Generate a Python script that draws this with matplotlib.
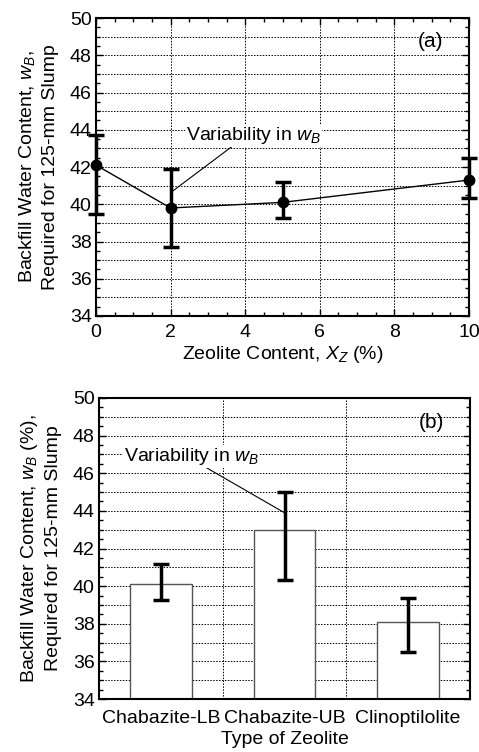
import numpy as np
import matplotlib.pyplot as plt
from matplotlib.ticker import MultipleLocator

plt.rcParams['font.family'] = ['Liberation Sans', 'DejaVu Sans']
plt.rcParams['mathtext.fontset'] = 'custom'
plt.rcParams['mathtext.it'] = 'Liberation Sans:italic'
plt.rcParams['mathtext.rm'] = 'Liberation Sans'

# panel (a)
zeolite_pct = [0, 2, 5, 10]
wb_mean = [42.1, 39.8, 40.1, 41.3]
wb_low = [39.5, 37.7, 39.25, 40.35]
wb_high = [43.7, 41.9, 41.2, 42.5]

# panel (b)
zeolite_type = ['Chabazite-LB', 'Chabazite-UB', 'Clinoptilolite']
wb_bar = [40.1, 43.0, 38.1]
bar_low = [39.25, 40.35, 36.5]
bar_high = [41.2, 45.0, 39.35]

fs = 14
fig = plt.figure(figsize=(4.79, 7.52), dpi=100)
ax1 = fig.add_axes([96/479, 1 - 316/752, 373/479, 298/752])
ax2 = fig.add_axes([99/479, 1 - 699/752, 371/479, 301/752])
dots = (0, (1.5, 1.5))


def style(ax):
    ax.set_ylim(34, 50)
    ax.yaxis.set_major_locator(MultipleLocator(2))
    ax.yaxis.set_minor_locator(MultipleLocator(0.5))
    ax.grid(True, which='major', color='black', linestyle=dots, linewidth=0.7)
    ax.set_axisbelow(True)
    for s in ax.spines.values():
        s.set_linewidth(1.5)
    ax.tick_params(which='both', direction='in', top=True, right=True, labelsize=fs, width=1.0)
    ax.tick_params(which='major', length=5)
    ax.tick_params(which='minor', length=3)
    ax.tick_params(axis='y', pad=3)
    for yv in np.arange(35, 50, 2):
        ax.axhline(yv, color='black', linestyle=dots, linewidth=0.7, zorder=0)


style(ax1)
ax1.set_xlim(0, 10)
ax1.xaxis.set_major_locator(MultipleLocator(2))
ax1.xaxis.set_minor_locator(MultipleLocator(0.5))
ax1.tick_params(axis='x', pad=6)
yerr = [np.array(wb_mean) - np.array(wb_low), np.array(wb_high) - np.array(wb_mean)]
ax1.errorbar(zeolite_pct, wb_mean, yerr=yerr, fmt='o-', color='black', ms=7.5,
             lw=1.0, elinewidth=2.5, capsize=6, capthick=2.5, clip_on=False, zorder=5)
ax1.set_xlabel('Zeolite Content, $X_Z$ (%)', fontsize=fs, labelpad=2)
ax1.set_ylabel('Backfill Water Content, $w_B$,\nRequired for 125-mm Slump', fontsize=fs,
               labelpad=8, linespacing=1.4)
ax1.text(0.93, 0.92, '(a)', transform=ax1.transAxes, fontsize=fs + 1, ha='right', va='center')
ax1.annotate('Variability in $w_B$', xy=(2.05, 40.7), xytext=(2.4, 43.7),
             fontsize=fs, va='center', ha='left',
             arrowprops=dict(arrowstyle='-', color='black', lw=0.8, shrinkA=0, shrinkB=0,
                             relpos=(0.35, 0)),
             bbox=dict(facecolor='white', edgecolor='none', pad=0.5))

style(ax2)
xpos = np.arange(len(zeolite_type))
ax2.set_xlim(-0.5, 2.5)
ax2.bar(xpos, np.array(wb_bar) - 34, bottom=34, width=0.5, color='white',
        edgecolor='#555555', linewidth=1.0, zorder=2)
yerr2 = [np.array(wb_bar) - np.array(bar_low), np.array(bar_high) - np.array(wb_bar)]
ax2.errorbar(xpos, wb_bar, yerr=yerr2, fmt='none', ecolor='black', elinewidth=2.5,
             capsize=6, capthick=2.5, zorder=4)
ax2.set_xticks(xpos)
ax2.set_xticklabels(zeolite_type)
ax2.set_xticks([0.5, 1.5], minor=True)
ax2.grid(False, axis='x', which='major')
ax2.grid(True, axis='x', which='minor', color='black', linestyle=dots, linewidth=0.7)
ax2.tick_params(axis='x', which='both', length=0, pad=8)
ax2.set_xlabel('Type of Zeolite', fontsize=fs, labelpad=3)
ax2.set_ylabel('Backfill Water Content, $w_B$ (%),\nRequired for 125-mm Slump', fontsize=fs,
               labelpad=8, linespacing=1.4)
ax2.text(0.93, 0.92, '(b)', transform=ax2.transAxes, fontsize=fs + 1, ha='right', va='center')
ax2.annotate('Variability in $w_B$', xy=(1.0, 43.9), xytext=(-0.3, 46.9),
             fontsize=fs, va='center', ha='left',
             arrowprops=dict(arrowstyle='-', color='black', lw=0.8, shrinkA=0, shrinkB=0,
                             relpos=(0.6, 0)),
             bbox=dict(facecolor='white', edgecolor='none', pad=0.5))

fig.savefig('out.png', dpi=100)
